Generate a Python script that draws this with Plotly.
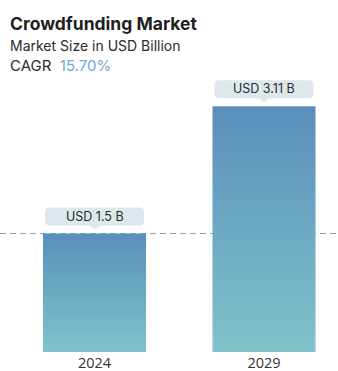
import plotly.graph_objects as go

categories = ["2024", "2029"]
values = [1.5, 3.11]
labels = ["USD 1.5 B", "USD 3.11 B"]
title = "Crowdfunding Market"
subtitle = "Market Size in USD Billion"
cagr = "15.70%"

BAR_W = 0.608
TOP_C = "#5a8fbc"
BOT_C = "#7fc3c9"
FONT = "Inter, Lato, sans-serif"

fig = go.Figure()
for i, v in enumerate(values):
    x0, x1 = i - BAR_W / 2, i + BAR_W / 2
    fig.add_trace(go.Scatter(
        x=[x0, x1, x1, x0, x0], y=[0, 0, v, v, 0],
        mode="lines", line=dict(width=0), fill="toself",
        fillgradient=dict(type="vertical", colorscale=[[0, BOT_C], [1, TOP_C]]),
        hoverinfo="skip", showlegend=False))

# dashed reference line at first value
fig.add_shape(type="line", xref="paper", x0=0, x1=1, yref="y", y0=values[0], y1=values[0],
              line=dict(color="#8ba6b8", width=1, dash="6px,4px"), layer="below")

# label boxes with rounded corners and pointer
for i, (v, t) in enumerate(zip(values, labels)):
    w = 99
    hw = w / 2
    r = 5
    b = 4   # pointer tip above bar top
    h = 18
    yb = b + 4
    yt = yb + h
    path = (f"M {-hw + r},{yb} L -5,{yb} L 0,{b} L 5,{yb} L {hw - r},{yb} "
            f"Q {hw},{yb} {hw},{yb + r} L {hw},{yt - r} Q {hw},{yt} {hw - r},{yt} "
            f"L {-hw + r},{yt} Q {-hw},{yt} {-hw},{yt - r} L {-hw},{yb + r} Q {-hw},{yb} {-hw + r},{yb} Z")
    fig.add_shape(type="path", xref="x", yref="y", xsizemode="pixel", ysizemode="pixel",
                  xanchor=i, yanchor=v, path=path,
                  fillcolor="#dde7ec", line=dict(width=0))
    fig.add_annotation(x=i, y=v, xref="x", yref="y", text=t, showarrow=False,
                       yshift=yb + h / 2 + 0.5, font=dict(family=FONT, size=12.5, color="#2b2b2b"))

fig.add_annotation(xref="paper", yref="paper", x=0, y=1, xanchor="left", yanchor="top",
                   text=f"<b>{title}</b>", showarrow=False, xshift=8, yshift=80 - 11,
                   font=dict(family=FONT, size=17.5, color="#1f1f1f"))
fig.add_annotation(xref="paper", yref="paper", x=0, y=1, xanchor="left", yanchor="top",
                   text=subtitle, showarrow=False, xshift=8, yshift=80 - 35,
                   font=dict(family=FONT, size=14, color="#2b2b2b"))
fig.add_annotation(xref="paper", yref="paper", x=0, y=1, xanchor="left", yanchor="top",
                   text=f"CAGR&nbsp; <span style='color:#6fa8d2'>{cagr}</span>", showarrow=False,
                   xshift=8, yshift=80 - 54,
                   font=dict(family=FONT, size=15, color="#2b2b2b"))

fig.update_layout(
    width=338, height=371,
    margin=dict(l=0, r=0, t=80, b=19),
    paper_bgcolor="white", plot_bgcolor="white",
    xaxis=dict(range=[-0.5575, 1.4366], tickvals=list(range(len(categories))), ticktext=categories,
               showgrid=False, zeroline=False, showline=False, ticks="", ticklabelstandoff=0,
               automargin=False,
               tickfont=dict(family="Open Sans, sans-serif", size=14.5, color="#333333"), fixedrange=True),
    yaxis=dict(range=[0, 3.443], visible=False, fixedrange=True, automargin=False),
    showlegend=False,
)

fig.write_html("out.html")
